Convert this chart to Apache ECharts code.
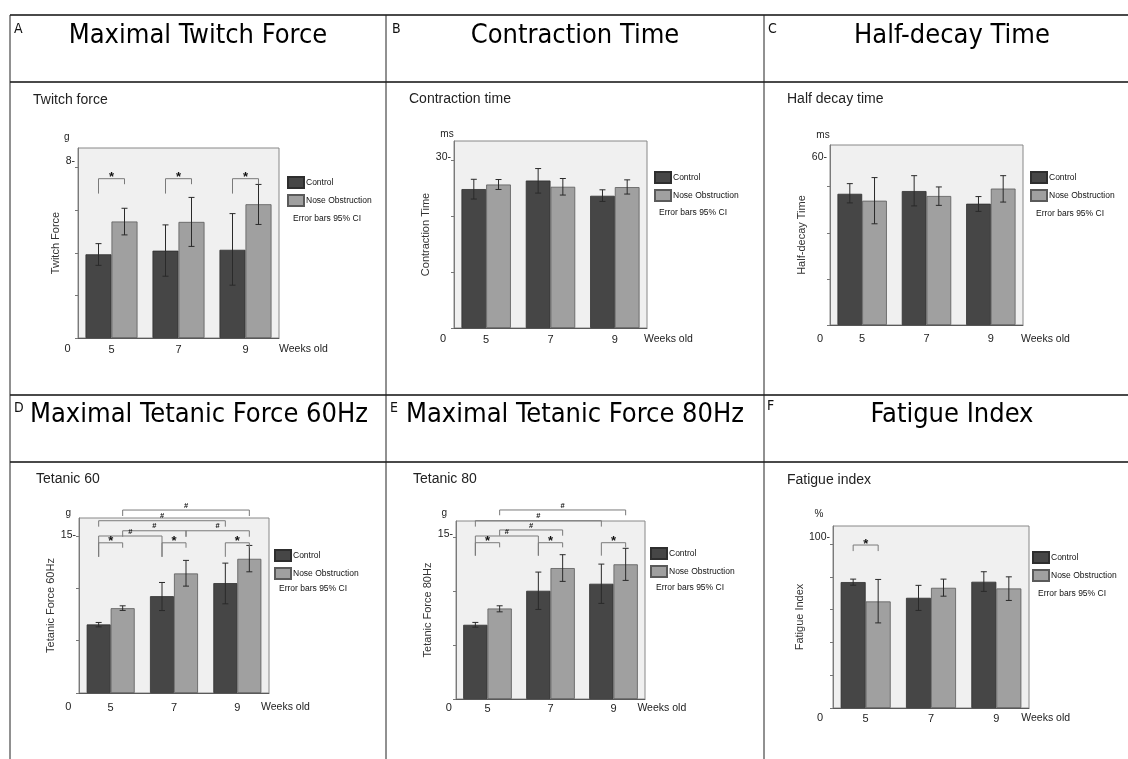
<!DOCTYPE html>
<html><head><meta charset="utf-8">
<script src="https://cdn.jsdelivr.net/npm/echarts@6/dist/echarts.min.js"></script>
<style>html,body{margin:0;padding:0;background:#fff}#c{width:1128px;height:759px}</style>
</head><body><div id="c"></div>
<script>
// ---------- DATA ----------
const weeks = ['5', '7', '9'];
const groupNames = ['Control', 'Nose Obstruction'];
const headerTitles = ['Maximal Twitch Force', 'Contraction Time', 'Half-decay Time',
                      'Maximal Tetanic Force 60Hz', 'Maximal Tetanic Force 80Hz', 'Fatigue Index'];
const panelLetters = ['A', 'B', 'C', 'D', 'E', 'F'];
const panelTitles = ['Twitch force', 'Contraction time', 'Half decay time', 'Tetanic 60', 'Tetanic 80', 'Fatigue index'];
const yTitles = ['Twitch Force', 'Contraction Time', 'Half-decay Time', 'Tetanic Force 60Hz', 'Tetanic Force 80Hz', 'Fatigue Index'];
const units = ['g', 'ms', 'ms', 'g', 'g', '%'];

// A  Twitch force (g)
const twitchControl = [3.93, 4.10, 4.14];
const twitchNose = [5.47, 5.45, 6.28];
const twitchControlCI = [[3.41, 4.43], [2.90, 5.31], [2.48, 5.84]];
const twitchNoseCI = [[4.84, 6.09], [4.30, 6.60], [5.33, 7.21]];
const twitchTicks = [0, 2, 4, 6, 8];
const twitchLabels = [8];
// bracket: [cat1, group1, cat2, group2, level, leftEnd, rightEnd, mark]
const twitchBrackets = [
  [0, 0, 0, 1, 7.48, 6.78, 7.22, '*'],
  [1, 0, 1, 1, 7.48, 6.78, 7.22, '*'],
  [2, 0, 2, 1, 7.48, 6.78, 7.22, '*']
];

// B  Contraction time (ms)
const contractionControl = [24.85, 26.38, 23.65];
const contractionNose = [25.67, 25.26, 25.20];
const contractionControlCI = [[23.07, 26.60], [24.13, 28.52], [22.64, 24.72]];
const contractionNoseCI = [[24.78, 26.56], [23.78, 26.74], [23.96, 26.50]];
const contractionTicks = [0, 10, 20, 30];
const contractionLabels = [30];
const contractionBrackets = [];

// C  Half-decay time (ms)
const halfDecayControl = [47.7, 48.7, 44.1];
const halfDecayNose = [45.2, 46.9, 49.6];
const halfDecayControlCI = [[44.4, 51.4], [43.3, 54.3], [41.3, 46.7]];
const halfDecayNoseCI = [[36.8, 53.6], [43.5, 50.2], [44.7, 54.3]];
const halfDecayTicks = [0, 16.7, 33.5, 50.3];
const halfDecayLabels = [60];
const halfDecayBrackets = [];

// D  Tetanic force 60 Hz (g)
const tet60Control = [6.55, 9.25, 10.50];
const tet60Nose = [8.10, 11.42, 12.82];
const tet60ControlCI = [[6.32, 6.74], [7.88, 10.56], [8.52, 12.41]];
const tet60NoseCI = [[7.89, 8.33], [10.21, 12.67], [11.58, 14.10]];
const tet60Ticks = [0, 5, 10, 15];
const tet60Labels = [15];
const tet60Brackets = [
  [0, 1, 2, 1, 17.48, 16.91, 16.91, '#'],
  [0, 0, 2, 0, 16.46, 15.89, 15.89, '#'],
  [0, 1, 1, 1, 15.50, 14.93, 14.93, '#'],
  [1, 1, 2, 1, 15.50, 14.93, 14.93, '#'],
  [0, 0, 1, 0, 15.00, 13.01, 13.01, '#'],
  [0, 0, 0, 1, 14.35, 13.01, 13.88, '*'],
  [1, 0, 1, 1, 14.35, 13.01, 13.88, '*'],
  [2, 0, 2, 1, 14.35, 13.01, 13.88, '*']
];

// E  Tetanic force 80 Hz (g)
const tet80Control = [6.87, 10.02, 10.67];
const tet80Nose = [8.38, 12.12, 12.47];
const tet80ControlCI = [[6.65, 7.09], [8.29, 11.75], [8.85, 12.49]];
const tet80NoseCI = [[8.07, 8.63], [10.89, 13.36], [10.98, 13.95]];
const tet80Ticks = [0, 5, 10, 15];
const tet80Labels = [15];
const tet80Brackets = [
  [0, 1, 2, 1, 17.50, 17.01, 17.01, '#'],
  [0, 0, 2, 0, 16.51, 15.96, 15.96, '#'],
  [0, 1, 1, 1, 15.65, 15.12, 15.12, '#'],
  [0, 0, 1, 0, 15.09, 13.27, 13.27, '#'],
  [0, 0, 0, 1, 14.47, 13.27, 14.04, '*'],
  [1, 0, 1, 1, 14.47, 13.27, 14.04, '*'],
  [2, 0, 2, 1, 14.47, 13.27, 14.04, '*']
];

// F  Fatigue index (%)
const fatigueControl = [76.8, 67.2, 77.0];
const fatigueNose = [65.0, 73.3, 72.9];
const fatigueControlCI = [[74.9, 78.6], [59.5, 74.8], [71.1, 83.1]];
const fatigueNoseCI = [[51.9, 78.4], [68.2, 78.6], [65.6, 80.0]];
const fatigueTicks = [0, 20, 40, 60, 80, 100];
const fatigueLabels = [100];
const fatigueBrackets = [
  [0, 0, 0, 1, 99.4, 95.7, 95.7, '*']
];

const yMaxes = [8.92, 33.45, 65.45, 16.72, 16.48, 111];

const panels = [
  {control: twitchControl, nose: twitchNose, cCI: twitchControlCI, nCI: twitchNoseCI, ticks: twitchTicks, labels: twitchLabels, brackets: twitchBrackets},
  {control: contractionControl, nose: contractionNose, cCI: contractionControlCI, nCI: contractionNoseCI, ticks: contractionTicks, labels: contractionLabels, brackets: contractionBrackets},
  {control: halfDecayControl, nose: halfDecayNose, cCI: halfDecayControlCI, nCI: halfDecayNoseCI, ticks: halfDecayTicks, labels: halfDecayLabels, brackets: halfDecayBrackets},
  {control: tet60Control, nose: tet60Nose, cCI: tet60ControlCI, nCI: tet60NoseCI, ticks: tet60Ticks, labels: tet60Labels, brackets: tet60Brackets},
  {control: tet80Control, nose: tet80Nose, cCI: tet80ControlCI, nCI: tet80NoseCI, ticks: tet80Ticks, labels: tet80Labels, brackets: tet80Brackets},
  {control: fatigueControl, nose: fatigueNose, cCI: fatigueControlCI, nCI: fatigueNoseCI, ticks: fatigueTicks, labels: fatigueLabels, brackets: fatigueBrackets}
];

// ---------- LAYOUT / STYLE ----------
const FONT = '"Liberation Sans", Arial, sans-serif';
const HEAD_FONT = '"DejaVu Sans Condensed", "DejaVu Sans", sans-serif';
const CTRL_COLOR = '#464646';
const NOSE_COLOR = '#a0a0a0';

const layout = [
  {grid: {left: 78, top: 148, width: 201, height: 190}, barW: 26, xm: 6, nx: 0, yng: 16, lift: 6,
   legend: [287, 176], err: [293, 219], unit: [66.7, 137], zero: [67.5, 349], title: [33, 100]},
  {grid: {left: 454, top: 141, width: 193, height: 187}, barW: 24.7, xm: 6, nx: -3, yng: 17, lift: 3,
   legend: [654, 171], err: [659, 213], unit: [447, 134], zero: [443, 339], title: [409, 99]},
  {grid: {left: 830, top: 145, width: 193, height: 180}, barW: 24.7, xm: 8.5, nx: -2, yng: 16, lift: 3,
   legend: [1030, 171], err: [1036, 214], unit: [823, 135], zero: [820, 339], title: [787, 99]},
  {grid: {left: 79, top: 518, width: 190, height: 175}, barW: 24, xm: 9, nx: -8, yng: 17, lift: 1,
   legend: [274, 549], err: [279, 589], unit: [68.3, 513], zero: [68.3, 707], title: [36, 479]},
  {grid: {left: 456, top: 521, width: 189, height: 178}, barW: 24.3, xm: 4, nx: -7.6, yng: 16.7, lift: 3,
   legend: [650, 547], err: [656, 588], unit: [444.3, 513], zero: [448.7, 708], title: [413, 479]},
  {grid: {left: 833, top: 526, width: 196, height: 182}, barW: 25, xm: 5, nx: -7.7, yng: 20, lift: 7,
   legend: [1032, 551], err: [1038, 594], unit: [819, 514], zero: [820, 718], title: [787, 480]}
];

const headerPos = [
  {letter: [14, 29], text: [198, 36]}, {letter: [392, 29], text: [575, 36]}, {letter: [768, 29], text: [952, 36]},
  {letter: [14, 408], text: [199, 415]}, {letter: [390, 408], text: [575, 415]}, {letter: [767, 406], text: [952, 415]}
];

// ---------- BUILD ----------
function errRender(barW) {
  return function (params, api) {
    const cat = api.value(0), grp = api.value(1);
    const lo = api.coord([cat, api.value(2)]);
    const hi = api.coord([cat, api.value(3)]);
    const x = lo[0] + (grp === 0 ? -1 : 1) * barW / 2;
    const cap = 3;
    const st = {stroke: '#2a2a2a', lineWidth: 1};
    return {type: 'group', children: [
      {type: 'line', shape: {x1: x, y1: lo[1], x2: x, y2: hi[1]}, style: st},
      {type: 'line', shape: {x1: x - cap, y1: lo[1], x2: x + cap, y2: lo[1]}, style: st},
      {type: 'line', shape: {x1: x - cap, y1: hi[1], x2: x + cap, y2: hi[1]}, style: st}
    ]};
  };
}

function bracketRender(barW, list) {
  return function (params, api) {
    const b = list[params.dataIndex];
    const p1 = api.coord([b[0], b[4]]);
    const p2 = api.coord([b[2], b[4]]);
    const x1 = p1[0] + (b[1] === 0 ? -1 : 1) * barW / 2;
    const x2 = p2[0] + (b[3] === 0 ? -1 : 1) * barW / 2;
    const yl = p1[1];
    const y1 = api.coord([b[0], b[5]])[1];
    const y2 = api.coord([b[2], b[6]])[1];
    const star = b[7] === '*';
    return {type: 'group', children: [
      {type: 'polyline', shape: {points: [[x1, y1], [x1, yl], [x2, yl], [x2, y2]]},
       style: {stroke: '#7a7a7a', lineWidth: 1, fill: null}},
      {type: 'text', x: (x1 + x2) / 2, y: star ? yl - 1 : yl - 4.5,
       style: {text: b[7], fill: '#111', fontSize: star ? 13 : 7.5, fontWeight: 'bold',
               fontFamily: FONT, align: 'center', verticalAlign: 'middle'}}
    ]};
  };
}

const grids = [], xAxes = [], yAxes = [], series = [], legends = [], graphics = [];

panels.forEach((p, i) => {
  const L = layout[i];
  grids.push(Object.assign({show: true, backgroundColor: '#f0f0f0', borderColor: '#888', borderWidth: 1}, L.grid));
  xAxes.push({
    type: 'category', gridIndex: i, data: weeks,
    axisLine: {lineStyle: {color: '#5a5a5a'}},
    axisTick: {alignWithLabel: true, length: 3, lineStyle: {color: '#777'}},
    axisLabel: {margin: L.xm, fontSize: 11, color: '#222', fontFamily: FONT},
    name: 'Weeks old', nameLocation: 'end', nameGap: L.nx,
    nameTextStyle: {fontSize: 10.5, color: '#222', fontFamily: FONT, verticalAlign: 'top', align: 'left', padding: [L.xm, 0, 0, 0]},
    splitLine: {show: false}
  });
  yAxes.push({
    type: 'value', gridIndex: i, min: 0, max: yMaxes[i],
    name: yTitles[i], nameLocation: 'middle', nameGap: L.yng,
    nameTextStyle: {fontSize: 11, color: '#333', fontFamily: FONT},
    axisLine: {show: true, lineStyle: {color: '#7a7a7a'}},
    axisTick: {show: true, length: 3, customValues: p.ticks, lineStyle: {color: '#777'}},
    axisLabel: {customValues: p.labels, formatter: v => v + '-', margin: 3, fontSize: 10.5, color: '#222',
                fontFamily: FONT, verticalAlign: 'bottom', lineHeight: 2 * L.lift},
    splitLine: {show: false}
  });
  series.push({
    type: 'bar', name: groupNames[0], xAxisIndex: i, yAxisIndex: i, data: p.control,
    barWidth: L.barW, barGap: '0%',
    itemStyle: {color: CTRL_COLOR, borderColor: '#2e2e2e', borderWidth: 0.8}
  });
  series.push({
    type: 'bar', name: groupNames[1], xAxisIndex: i, yAxisIndex: i, data: p.nose,
    barWidth: L.barW, barGap: '0%',
    itemStyle: {color: NOSE_COLOR, borderColor: '#5a5a5a', borderWidth: 0.8}
  });
  const errData = [];
  weeks.forEach((w, k) => {
    errData.push([k, 0, p.cCI[k][0], p.cCI[k][1]]);
    errData.push([k, 1, p.nCI[k][0], p.nCI[k][1]]);
  });
  series.push({
    type: 'custom', xAxisIndex: i, yAxisIndex: i, data: errData, renderItem: errRender(L.barW),
    encode: {x: 0, y: [2, 3]}, z: 5, silent: true, clip: false
  });
  if (p.brackets.length) {
    series.push({
      type: 'custom', xAxisIndex: i, yAxisIndex: i,
      data: p.brackets.map(b => [b[0], b[1], b[2], b[3], b[4], b[5], b[6]]),
      renderItem: bracketRender(L.barW, p.brackets),
      encode: {x: 0, y: 4}, z: 6, silent: true, clip: false
    });
  }
  legends.push({
    data: groupNames, orient: 'vertical', left: L.legend[0], top: L.legend[1], padding: 0,
    itemWidth: 16, itemHeight: 11, itemGap: 5, icon: 'rect', selectedMode: false,
    textStyle: {fontSize: 8.5, color: '#111', fontFamily: FONT, padding: [0, 0, 0, -3]}
  });
  // static texts
  graphics.push({type: 'text', x: L.err[0], y: L.err[1], silent: true,
    style: {text: 'Error bars 95% CI', fontSize: 8.5, fill: '#111', fontFamily: FONT, align: 'left', verticalAlign: 'middle'}});
  graphics.push({type: 'text', x: L.unit[0], y: L.unit[1], silent: true,
    style: {text: units[i], fontSize: 10, fill: '#222', fontFamily: FONT, align: 'center', verticalAlign: 'middle'}});
  graphics.push({type: 'text', x: L.zero[0], y: L.zero[1], silent: true,
    style: {text: '0', fontSize: 11, fill: '#222', fontFamily: FONT, align: 'center', verticalAlign: 'middle'}});
  graphics.push({type: 'text', x: L.title[0], y: L.title[1], silent: true,
    style: {text: panelTitles[i], fontSize: 14, fill: '#222', fontFamily: FONT, align: 'left', verticalAlign: 'middle'}});
  const H = headerPos[i];
  graphics.push({type: 'text', x: H.letter[0], y: H.letter[1], silent: true,
    style: {text: panelLetters[i], fontSize: 14, fill: '#111', fontFamily: HEAD_FONT, align: 'left', verticalAlign: 'middle'}});
  graphics.push({type: 'text', x: H.text[0], y: H.text[1], silent: true,
    style: {text: headerTitles[i], fontSize: 27, fill: '#000', fontFamily: HEAD_FONT, align: 'center', verticalAlign: 'middle'}});
});

// table frame
const hLines = [15, 82, 395, 462];
hLines.forEach(y => graphics.push({type: 'line', silent: true, shape: {x1: 10, y1: y, x2: 1128, y2: y},
  style: {stroke: '#4a4a4a', lineWidth: 2}}));
[10, 386, 764].forEach(x => graphics.push({type: 'line', silent: true, shape: {x1: x, y1: 15, x2: x, y2: 759},
  style: {stroke: '#222', lineWidth: 1}}));

const chart = echarts.init(document.getElementById('c'), null, {renderer: 'canvas'});
chart.setOption({
  backgroundColor: '#ffffff',
  animation: false,
  grid: grids, xAxis: xAxes, yAxis: yAxes, legend: legends, series: series,
  graphic: {elements: graphics}
});
</script></body></html>
